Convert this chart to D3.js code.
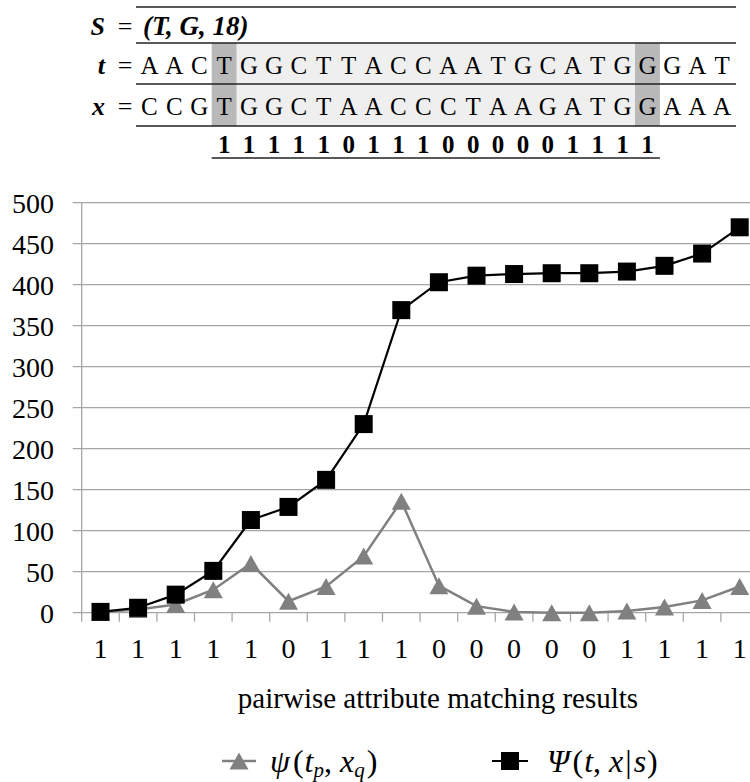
<!DOCTYPE html>
<html><head><meta charset="utf-8">
<script src="https://cdn.jsdelivr.net/npm/d3@7"></script>
<style>
body{margin:0;background:#fff}
svg{display:block}
</style>
</head><body>
<svg id="chart" width="750" height="782"></svg>
<script>
// ---- data ----
const matchLabels = ["1","1","1","1","1","0","1","1","1","0","0","0","0","0","1","1","1","1"];
const psiValues = [1, 4, 10, 28, 60, 14, 32, 69, 136, 33, 8, 1, 0, 0, 2, 7, 15, 32];
const PsiValues = [1, 6, 22, 51, 113, 129, 162, 230, 369, 403, 411, 413, 414, 414, 416, 423, 438, 470];
const yTicks = [0, 50, 100, 150, 200, 250, 300, 350, 400, 450, 500];
const seqT = "AACTGGCTTACCAATGCATGGGAT".split("");
const seqX = "CCGTGGCTAACCCTAAGATGGAAA".split("");
const sValue = "(T, G, 18)";
const segStart = 3, segEnd = 20;
const xTitle = "pairwise attribute matching results";

const svg = d3.select("#chart");
svg.attr("font-family", "'Liberation Serif', Tinos, 'Times New Roman', serif");

// ---- header table ----
const cell = d3.scaleBand().domain(d3.range(seqT.length)).range([137, 137 + seqT.length * 24.9]);
const rowY = {s: 26, t: 65, x: 106, d: 144};
const head = svg.append("g");
head.append("rect").attr("x", cell(segStart + 1)).attr("y", 43)
  .attr("width", cell(segEnd) - cell(segStart + 1)).attr("height", 83).attr("fill", "#efefef");
[segStart, segEnd].forEach(i => head.append("rect").attr("x", cell(i)).attr("y", 43)
  .attr("width", cell.bandwidth()).attr("height", 83).attr("fill", "#b9b9b9"));
[7, 43, 84, 126].forEach(y => head.append("line").attr("x1", 136).attr("x2", 736)
  .attr("y1", y).attr("y2", y).attr("stroke", "#222").attr("stroke-width", 1.6));
head.append("line").attr("x1", cell(segStart)).attr("x2", cell(segEnd) + cell.bandwidth())
  .attr("y1", 158).attr("y2", 158).attr("stroke", "#222").attr("stroke-width", 1.6);
const lab = (name, y) => {
  head.append("text").attr("x", 105).attr("y", y).attr("dy", "0.35em").attr("text-anchor", "end")
    .attr("font-size", 26).attr("font-style", "italic").attr("font-weight", "bold").text(name);
  head.append("text").attr("x", 125).attr("y", y).attr("dy", "0.35em").attr("text-anchor", "middle")
    .attr("font-size", 26).text("=");
};
lab("S", rowY.s); lab("t", rowY.t); lab("x", rowY.x);
head.append("text").attr("x", 143).attr("y", rowY.s).attr("dy", "0.35em")
  .attr("font-size", 27).attr("font-style", "italic").attr("font-weight", "bold").text(sValue);
[[seqT, rowY.t], [seqX, rowY.x]].forEach(([seq, y]) => {
  head.selectAll(null).data(seq).enter().append("text")
    .attr("x", (d, i) => cell(i) + cell.bandwidth() / 2).attr("y", y).attr("dy", "0.35em")
    .attr("text-anchor", "middle").attr("font-size", 25).text(d => d);
});
head.selectAll(null).data(matchLabels).enter().append("text")
  .attr("x", (d, i) => cell(segStart + i) + cell.bandwidth() / 2).attr("y", rowY.d).attr("dy", "0.35em")
  .attr("text-anchor", "middle").attr("font-size", 25).attr("font-weight", "bold").text(d => d);

// ---- chart ----
const x = d3.scaleBand().domain(d3.range(matchLabels.length)).range([81.7, 81.7 + matchLabels.length * 37.6]);
const y = d3.scaleLinear().domain([0, 500]).range([612.7, 202.7]);
const cx = i => x(i) + x.bandwidth() / 2;
const g = svg.append("g");

g.selectAll(null).data(yTicks).enter().append("line")
  .attr("x1", 72.7).attr("x2", 750).attr("y1", d => y(d)).attr("y2", d => y(d))
  .attr("stroke", "#a6a6a6").attr("stroke-width", 1.3);
g.selectAll(null).data(yTicks).enter().append("text")
  .attr("x", 54).attr("y", d => y(d)).attr("dy", "0.35em").attr("text-anchor", "end")
  .attr("font-size", 28).text(d => d);
g.append("line").attr("x1", 81.7).attr("x2", 81.7).attr("y1", y(500)).attr("y2", y(0) + 9)
  .attr("stroke", "#a6a6a6").attr("stroke-width", 1.3);
g.selectAll(null).data(d3.range(1, matchLabels.length + 1)).enter().append("line")
  .attr("x1", i => x.range()[0] + i * x.step()).attr("x2", i => x.range()[0] + i * x.step())
  .attr("y1", y(0)).attr("y2", y(0) + 9).attr("stroke", "#a6a6a6").attr("stroke-width", 1.3);
g.selectAll(null).data(matchLabels).enter().append("text")
  .attr("x", (d, i) => cx(i)).attr("y", 648).attr("dy", "0.35em").attr("text-anchor", "middle")
  .attr("font-size", 28).text(d => d);
g.append("text").attr("x", 438).attr("y", 698).attr("dy", "0.35em").attr("text-anchor", "middle")
  .attr("font-size", 29).text(xTitle);

const line = d3.line().x((d, i) => cx(i)).y(d => y(d));
const triPath = "M0,-8.5L9.5,8.5L-9.5,8.5Z";
g.append("path").datum(psiValues).attr("d", line).attr("fill", "none")
  .attr("stroke", "#808080").attr("stroke-width", 2.5);
g.selectAll(null).data(psiValues).enter().append("path")
  .attr("transform", (d, i) => `translate(${cx(i)},${y(d)})`).attr("d", triPath).attr("fill", "#808080");
g.append("path").datum(PsiValues).attr("d", line).attr("fill", "none")
  .attr("stroke", "#000").attr("stroke-width", 2.2);
g.selectAll(null).data(PsiValues).enter().append("rect")
  .attr("x", (d, i) => cx(i) - 9).attr("y", d => y(d) - 9).attr("width", 18).attr("height", 18).attr("fill", "#000");

// ---- legend ----
const ly = 761;
const leg = svg.append("g");
leg.append("line").attr("x1", 222).attr("x2", 256).attr("y1", ly).attr("y2", ly).attr("stroke", "#808080").attr("stroke-width", 2.5);
leg.append("path").attr("transform", `translate(239,${ly})`).attr("d", triPath).attr("fill", "#808080");
const t1 = leg.append("text").attr("x", 270).attr("y", ly).attr("dy", "0.35em").attr("font-size", 32);
t1.append("tspan").attr("font-style", "italic").text("ψ");
t1.append("tspan").attr("dx", 3).text("(");
t1.append("tspan").attr("dx", 1).attr("font-style", "italic").text("t");
t1.append("tspan").attr("font-style", "italic").attr("font-size", 21).attr("dy", 5).text("p");
t1.append("tspan").attr("dy", -5).text(",");
t1.append("tspan").attr("dx", 8).attr("font-style", "italic").text("x");
t1.append("tspan").attr("font-style", "italic").attr("font-size", 21).attr("dy", 5).text("q");
t1.append("tspan").attr("dx", 2).attr("dy", -5).text(")");

leg.append("line").attr("x1", 492).attr("x2", 528).attr("y1", ly).attr("y2", ly).attr("stroke", "#000").attr("stroke-width", 2.2);
leg.append("rect").attr("x", 501).attr("y", ly - 9).attr("width", 18).attr("height", 18).attr("fill", "#000");
const t2 = leg.append("text").attr("x", 547).attr("y", ly).attr("dy", "0.35em").attr("font-size", 32);
t2.append("tspan").attr("font-style", "italic").text("Ψ");
t2.append("tspan").attr("dx", 3).text("(");
t2.append("tspan").attr("dx", 1).attr("font-style", "italic").text("t");
t2.append("tspan").text(",");
t2.append("tspan").attr("dx", 8).attr("font-style", "italic").text("x");
t2.append("tspan").attr("dx", 2).text("|");
t2.append("tspan").attr("dx", 2).attr("font-style", "italic").text("s");
t2.append("tspan").attr("dx", 1).text(")");
</script>
</body></html>
